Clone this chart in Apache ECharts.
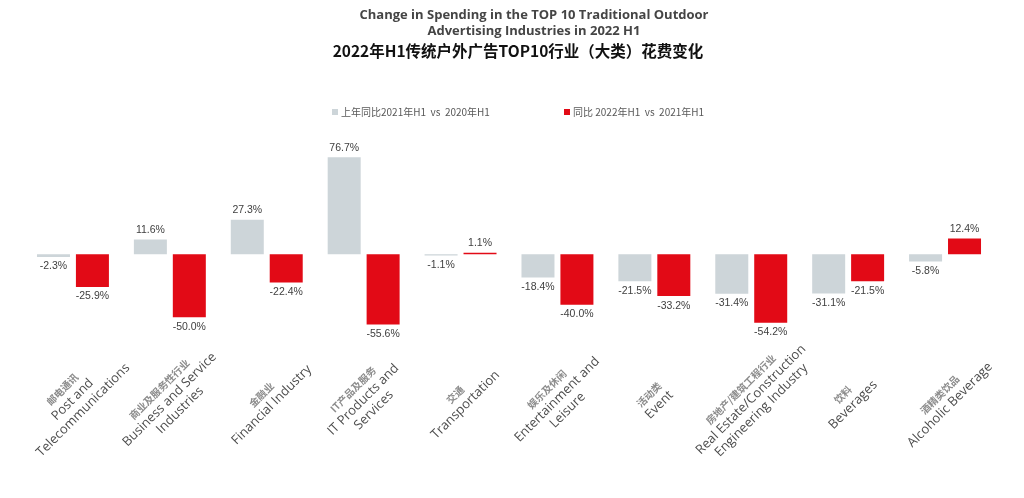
<!DOCTYPE html>
<html><head><meta charset="utf-8">
<script src="https://cdn.jsdelivr.net/npm/echarts@6/dist/echarts.min.js"></script>
<style>html,body{margin:0;padding:0;background:#fff}#c{width:1024px;height:498px}</style>
</head><body><div id="c"></div>
<script>
const catCn = ['邮电通讯', '商业及服务性行业', '金融业', 'IT产品及服务', '交通', '娱乐及休闲', '活动类', '房地产/建筑工程行业', '饮料', '酒精类饮品'];
const catEn = ['Post and\nTelecommunications', 'Business and Service\nIndustries', 'Financial Industry', 'IT Products and\nServices', 'Transportation', 'Entertainment and\nLeisure', 'Event', 'Real Estate/Construction\nEngineering Industry', 'Beverages', 'Alcoholic Beverage'];
const seriesNames = ['上年同比2021年H1  vs  2020年H1', '同比 2022年H1  vs  2021年H1'];
const prevYoY = [-2.3, 11.6, 27.3, 76.7, -1.1, -18.4, -21.5, -31.4, -31.1, -5.8];
const currYoY = [-25.9, -50.0, -22.4, -55.6, 1.1, -40.0, -33.2, -54.2, -21.5, 12.4];

const GREY = '#cdd5d9', RED = '#e20a16';
function toData(arr) {
  return arr.map(v => ({ value: v, label: { position: v < 0 ? 'bottom' : 'top' } }));
}
const labelStyle = {
  show: true, distance: 4, color: '#404040', fontSize: 10.5, fontFamily: 'Liberation Sans',
  formatter: p => p.value.toFixed(1) + '%'
};
const chart = echarts.init(document.getElementById('c'), null, { renderer: 'canvas' });
chart.setOption({
  animation: false,
  backgroundColor: '#ffffff',
  title: [
    { text: 'Change in Spending in the TOP 10 Traditional Outdoor\nAdvertising Industries in 2022 H1',
      left: 529, top: 2, textAlign: 'center',
      textStyle: { fontFamily: 'Open Sans', fontWeight: 'bold', fontSize: 13, color: '#454545', lineHeight: 16 } },
    { text: '2022年H1传统户外广告TOP10行业（大类）花费变化',
      left: 513, top: 38, textAlign: 'center',
      textStyle: { fontFamily: 'Noto Sans CJK SC', fontWeight: 'bold', fontSize: 15.5, color: '#111111' } }
  ],
  legend: [
    { data: [seriesNames[0]], left: 327, top: 102, icon: 'rect', itemWidth: 6, itemHeight: 6, itemGap: 4,
      textStyle: { fontSize: 10, color: '#595959', fontFamily: 'Noto Sans CJK SC', padding: [0, 0, 0, -2] } },
    { data: [seriesNames[1]], left: 559, top: 102, icon: 'rect', itemWidth: 6, itemHeight: 6, itemGap: 4,
      textStyle: { fontSize: 10, color: '#595959', fontFamily: 'Noto Sans CJK SC', padding: [0, 0, 0, -2] } }
  ],
  grid: { left: 24.5, right: 30.5, top: 153, bottom: 168, containLabel: false },
  xAxis: {
    type: 'category', data: catEn,
    axisLine: { show: false, onZero: false }, axisTick: { show: false },
    axisLabel: {
      interval: 0, rotate: 45, align: 'center', verticalAlign: 'middle', margin: 70,
      formatter: (v, i) => '{cn|' + catCn[i] + '}\n' + v.split('\n').map(s => '{en|' + s + '}').join('\n'),
      rich: {
        cn: { fontFamily: 'Noto Sans CJK SC', fontSize: 10, fontWeight: 'bold', color: '#8c8c8c', lineHeight: 14, align: 'center' },
        en: { fontFamily: 'Open Sans', fontSize: 13, color: '#4d4d4d', lineHeight: 15, align: 'center' }
      }
    }
  },
  yAxis: { type: 'value', min: -60, max: 80, show: false, splitLine: { show: false } },
  series: [
    { name: seriesNames[0], type: 'bar', data: toData(prevYoY), barWidth: 33, barGap: '18%',
      itemStyle: { color: GREY }, label: labelStyle },
    { name: seriesNames[1], type: 'bar', data: toData(currYoY), barWidth: 33,
      itemStyle: { color: RED }, label: labelStyle }
  ]
});
</script></body></html>
